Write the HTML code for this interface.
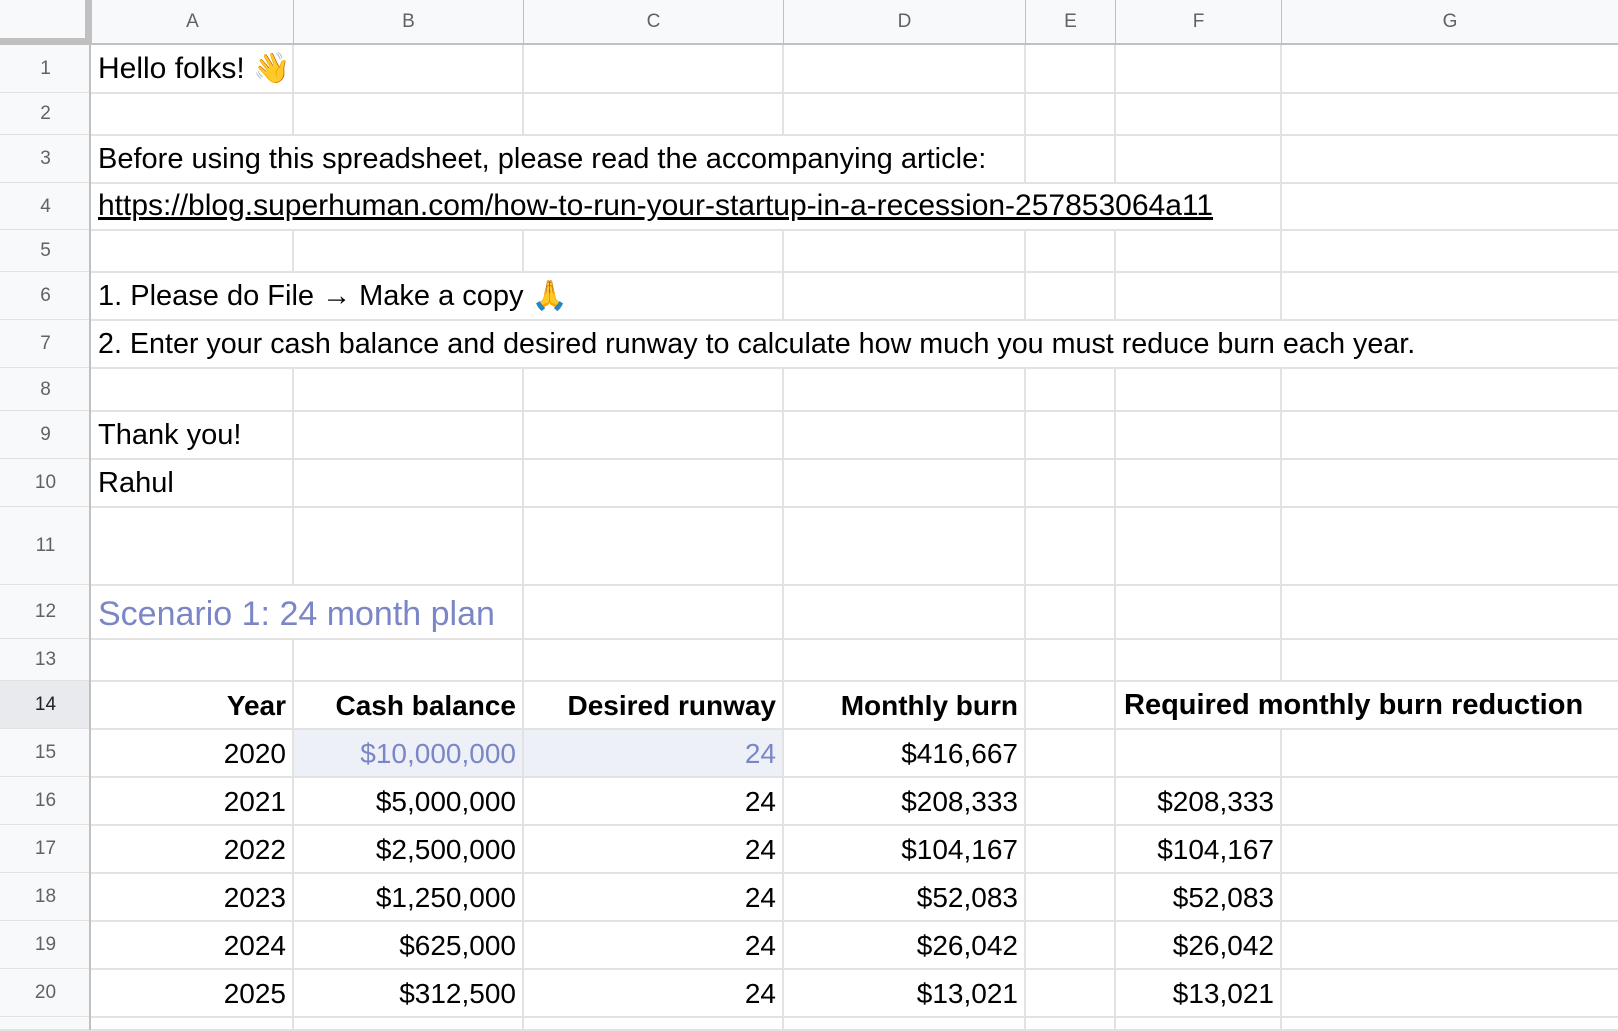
<!DOCTYPE html>
<html><head><meta charset="utf-8">
<style>
html,body{margin:0;padding:0;width:1618px;height:1030px;overflow:hidden;background:#fff;font-family:"Liberation Sans",sans-serif}
.hdr{position:absolute;background:#f8f9fa;color:#5f6368;font-size:19px;display:flex;align-items:center;justify-content:center;box-sizing:border-box}
.vl{position:absolute;width:2px;background:#e2e2e2}
.hl{position:absolute;height:2px;background:#e2e2e2}
.cell{position:absolute;display:flex;align-items:flex-end;box-sizing:border-box;padding:0 7px 7px 7px;white-space:nowrap;font-size:29px;color:#000}
.r{justify-content:flex-end;font-size:28px}
.b{font-weight:bold}
</style></head><body>
<div id="grid"></div>
<script>
const colEdges=[0,91,293,523,783,1025,1115,1281,1618];
const colLabels=["A","B","C","D","E","F","G"];
const rowEdges=[44,93,135,183,230,272,320,368,411,459,507,585,639,681,729,777,825,873,921,969,1017,1030];
const g=document.getElementById('grid');
function mk(cls,x,y,w,h){const d=document.createElement('div');d.className=cls;d.style.left=x+'px';d.style.top=y+'px';d.style.width=w+'px';d.style.height=h+'px';g.appendChild(d);return d;}
let bg=mk('hl',colEdges[2],rowEdges[14],colEdges[4]-colEdges[2],rowEdges[15]-rowEdges[14]);
bg.style.background='#eef0f8';


for(let r=1;r<=21;r++){
  const y=rowEdges[r-1],h=rowEdges[r]-y;
  const hdr=mk('hdr',0,y,91,h);
  hdr.textContent=r<=20?r:'';
  if(r===14){hdr.style.background='#e8eaed';hdr.style.color='#202124';}
  
  
  const hl=mk('hl',0,rowEdges[r]-1,1618,2);
  
  
  for(let c=2;c<=7;c++){
    let hide=false;
    if(r===3&&c<=4)hide=true;
    if(r===4&&c<=6)hide=true;
    if(r===6&&c<=3)hide=true;
    if(r===7&&c<=7)hide=true;
    if(r===12&&c<=2)hide=true;
    if(r===14&&c===7)hide=true;
    if(!hide){const v=mk('vl',colEdges[c]-1,y,2,h);}
  }
}
const rb=mk('vl',89,0,2,1030);rb.style.background='#c0c0c0';


for(let c=0;c<7;c++){
  const x=colEdges[c+1],w=colEdges[c+2]-x;
  const h=mk('hdr',x,0,w,44);
  h.textContent=colLabels[c];
  h.style.borderLeft='1px solid #c0c0c0';
  
  
}
const corner=mk('hdr',0,0,91,44);
corner.style.borderRight='6px solid #c0c0c0';corner.style.borderBottom='6px solid #c0c0c0';


const hb=mk('hl',0,43,1618,2);hb.style.background='#c0c0c0';


function txt(r,c1,c2,t,cls,name,extra){
  const x=colEdges[c1],y=rowEdges[r-1];
  const d=mk('cell '+(cls||''),x,y,colEdges[c2]-x,rowEdges[r]-y);
  d.textContent=t;
  if(extra)Object.assign(d.style,extra);
  
  
  return d;
}
txt(1,1,8,'Hello folks! 👋','','greeting-cell',{fontSize:'30px'});
txt(3,1,8,'Before using this spreadsheet, please read the accompanying article:','','intro-cell');
txt(4,1,8,'https://blog.superhuman.com/how-to-run-your-startup-in-a-recession-257853064a11','','article-link',{textDecoration:'underline',fontSize:'30px'});
txt(6,1,8,'1. Please do File → Make a copy 🙏','','step-1-cell');
txt(7,1,8,'2. Enter your cash balance and desired runway to calculate how much you must reduce burn each year.','','step-2-cell',{fontSize:'28.7px'});
txt(9,1,8,'Thank you!','','thanks-cell');
txt(10,1,8,'Rahul','','signature-cell');
txt(12,1,8,'Scenario 1: 24 month plan','','scenario-title',{fontSize:'34px',color:'#7b86c6',paddingBottom:'5px'});
const headers=[[1,2,'Year'],[2,3,'Cash balance'],[3,4,'Desired runway'],[4,5,'Monthly burn']];
headers.forEach(h=>txt(14,h[0],h[1],h[2],'r b','header-'+h[2].toLowerCase().replace(/ /g,'-')));
txt(14,6,8,'Required monthly burn reduction','b','header-required-reduction',{paddingLeft:'9px'});
const years=[2020,2021,2022,2023,2024,2025];
const cash=["$10,000,000","$5,000,000","$2,500,000","$1,250,000","$625,000","$312,500"];
const runway=[24,24,24,24,24,24];
const burn=["$416,667","$208,333","$104,167","$52,083","$26,042","$13,021"];
const reduction=["","$208,333","$104,167","$52,083","$26,042","$13,021"];
years.forEach((yv,i)=>{
  const r=15+i;
  const purple=i===0?{color:'#7b86c6'}:null;
  txt(r,1,2,String(yv),'r','year-'+yv);
  txt(r,2,3,cash[i],'r','cash-balance-'+yv,purple);
  txt(r,3,4,String(runway[i]),'r','runway-'+yv,purple);
  txt(r,4,5,burn[i],'r','monthly-burn-'+yv);
  if(reduction[i])txt(r,6,7,reduction[i],'r','burn-reduction-'+yv);
});
</script>
</body></html>
